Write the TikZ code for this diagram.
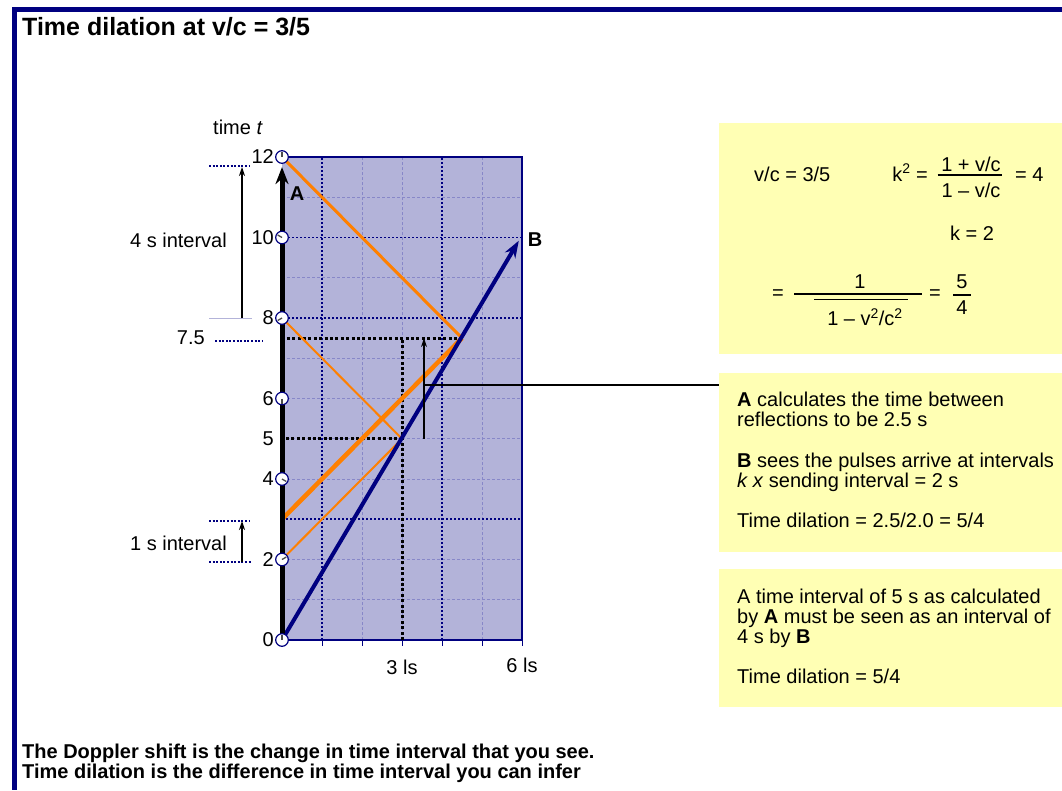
\documentclass[tikz,border=0pt]{standalone}
\usepackage{fontspec}
\setmainfont{Liberation Sans}
\usetikzlibrary{arrows.meta}
\definecolor{navyb}{RGB}{0,0,128}
\definecolor{lav}{RGB}{179,179,217}
\definecolor{lavline}{RGB}{135,135,200}
\definecolor{orng}{RGB}{255,128,0}
\definecolor{ylw}{RGB}{255,255,180}
\begin{document}
\begin{tikzpicture}[x=1pt,y=-1pt,font=\fontsize{20}{20}\selectfont,
  txt/.style={inner sep=0pt,anchor=base west},
  tick/.style={inner sep=0pt,anchor=east},
  ybox/.style={fill=ylw,draw=none,minimum width=343pt,inner sep=0pt},
  navydot/.style={navyb,line width=1.6pt,dash pattern=on 2pt off 1.6pt},
  griddot/.style={navyb,line width=1.6pt,dash pattern=on 2pt off 2pt},
  gridlight/.style={lavline,line width=0.7pt,dash pattern=on 3pt off 2pt},
  blackdot/.style={black,line width=3pt,dash pattern=on 3pt off 2.4pt},
  thinarrow/.style={black,line width=1.2pt,-{Stealth[length=9pt,width=6pt]}},
  clock/.style={navyb,fill=white,line width=1.2pt},
  hand/.style={line width=1.3pt,black!70}]
\useasboundingbox (0,0) rectangle (1062,790);
\fill[white] (0,0) rectangle (1062,790);
% frame
\fill[navyb] (12,7) rectangle (1062,12);
\fill[navyb] (12,7) rectangle (17,790);
% title
\node[txt,font=\fontsize{25}{25}\selectfont\bfseries] (title) at (22,35.5) {Time dilation at v/c = 3/5};
% plot
\begin{scope}[shift={(282,640)},x={(40pt,0pt)},y={(0pt,40.25pt)}]
  \fill[lav] (0,0) rectangle (6,12);
  \foreach \i in {2,3,5} \draw[gridlight] (\i,0) -- (\i,12);
  \foreach \t in {1,2,4,5,6,7,9,11} \draw[gridlight] (0,\t) -- (6,\t);
  \draw[griddot] (1,0) -- (1,12);
  \draw[griddot] (4,0) -- (4,12);
  \draw[griddot] (0.15,10) -- (6,10);
  \draw[griddot] (0.15,8) -- (6,8);
  \draw[griddot] (0,3) -- (6,3);
  \draw[navyb,line width=2pt] (0.15,12) -- (6,12) -- (6,0) -- (0,0);
  \foreach \i in {1,...,6} \draw[navyb,line width=1pt] (\i,0) -- (\i,-0.16);
  % key points
  \coordinate (O) at (0,0);
  \coordinate (E2) at (0,2);
  \coordinate (E3) at (0,3);
  \coordinate (E8) at (0,8);
  \coordinate (E12) at (0,12);
  \coordinate (R5) at (3,5);
  \coordinate (R75) at (4.5,7.5);
  \coordinate (X3) at (3,0);
  \coordinate (X3t) at (3,7.5);
  \coordinate (L5) at (0.1,5);
  \coordinate (L75) at (0.12,7.5);
  \coordinate (Btip) at (5.92,9.92);
  \coordinate (Abot) at (0,0);
  \coordinate (Atop) at (0,11.75);
  \coordinate (M5) at (3.55,5);
  \coordinate (M75) at (3.55,7.5);
  \coordinate (Mc) at (3.55,6.335);
  % dotted construction
  \draw[blackdot] (L5) -- (R5);
  \draw[blackdot] (X3) -- (X3t);
  \draw[blackdot] (L75) -- (R75);
  % light rays
  \draw[orng,line width=2pt] (E2) -- (R5) -- (E8);
  \draw[orng,line width=4.5pt] (E3) -- (R75);
  \draw[orng,line width=3pt] (R75) -- (E12);
  % world line B
  \draw[navyb,line width=4pt,-{Stealth[length=17pt,width=12pt]}] (O) -- (Btip);
  % arrow
  \draw[thinarrow] (M5) -- (M75);
  % axis A
  \draw[black,line width=5pt,-{Stealth[length=17pt,width=13pt]}] (Abot) -- (Atop);
  % clocks
  \foreach \t in {0,2,4,6,8,10,12}{
    \draw[clock] (0,\t) circle[radius=6.3pt];
    \draw[hand] (0,\t) -- ++({90-30*\t}:5pt);
  }
  % tick labels
  \foreach \t in {0,2,4,5,6,8,10,12} \node[tick] (tl\t) at (-0.2,\t) {\t};
  \node[tick] (tl75) at (-1.925,7.5) {7.5};
  \node[inner sep=0pt] (x3) at (3,-0.68) {3 ls};
  \node[inner sep=0pt] (x6) at (6,-0.63) {6 ls};
  \node[inner sep=0pt,font=\fontsize{20}{20}\selectfont\bfseries] (Alab) at (0.38,11.08) {A};
  \node[inner sep=0pt,font=\fontsize{20}{20}\selectfont\bfseries] (Blab) at (6.33,9.95) {B};
\end{scope}
\node[inner sep=0pt] (timet) at (238,127) {time \textit{t}};
% left annotations
\coordinate (i4a) at (209,166); \coordinate (i4b) at (250,166);
\coordinate (i4c) at (209,318); \coordinate (i4d) at (252,318);
\draw[navydot] (i4a) -- (i4b);
\draw[lav,line width=1pt] (i4c) -- (i4d);
\coordinate (a4b) at (242,318); \coordinate (a4t) at (242,167);
\draw[thinarrow] (a4b) -- (a4t);
\node[tick] (int4) at (227,240) {4 s interval};
\coordinate (s75a) at (215,341); \coordinate (s75b) at (262,341);
\draw[navydot] (s75a) -- (s75b);
\coordinate (i1a) at (209,521); \coordinate (i1b) at (250,521);
\coordinate (i1c) at (209,562); \coordinate (i1d) at (252,562);
\draw[navydot] (i1a) -- (i1b);
\draw[navydot] (i1c) -- (i1d);
\coordinate (a1b) at (242,562); \coordinate (a1t) at (242,521);
\draw[thinarrow] (a1b) -- (a1t);
\node[tick] (int1) at (227,543) {1 s interval};
% yellow boxes
\node[ybox,minimum height=231pt] (box1) at (890.5,238.5) {};
\node[ybox,minimum height=179pt] (box2) at (890.5,462.5) {};
\node[ybox,minimum height=138pt] (box3) at (890.5,638) {};
% connector
\draw[black,line width=1.2pt] (Mc) -- (Mc -| box2.west);
% box 1 formulas
\node[txt] (vc) at (754,181) {v/c = 3/5};
\node[inner sep=0pt,anchor=base east] (ksq) at (928,181) {k\textsuperscript{2} =};
\node[inner sep=0pt] (fnum) at (971,164) {1 + v/c};
\draw[black,line width=1.8pt] (937.5,175) -- (1002,175);
\node[inner sep=0pt] (fden) at (971,190) {1 -- v/c};
\node[txt] (eq4) at (1015,181) {= 4};
\node[inner sep=0pt] (k2) at (972,233) {k = 2};
\node[inner sep=0pt] (eqa) at (778,295) {=};
\node[inner sep=0pt] (gnum) at (860,282) {1};
\draw[black,line width=1.8pt] (794,294) -- (922,294);
\draw[black,line width=1.8pt] (814,299.5) -- (908,299.5);
\node[inner sep=0pt] (gden) at (865,317) {1 -- v\textsuperscript{2}/c\textsuperscript{2}};
\node[inner sep=0pt] (eqb) at (935,295) {=};
\node[inner sep=0pt] (n5) at (962,282) {5};
\draw[black,line width=1.8pt] (953,295) -- (971,295);
\node[inner sep=0pt] (n4) at (962,308) {4};
% box 2 text
\node[txt] (b2l1) at (737,406) {\textbf{A} calculates the time between};
\node[txt] (b2l2) at (737,426) {reflections to be 2.5 s};
\node[txt] (b2l3) at (737,467) {\textbf{B} sees the pulses arrive at intervals};
\node[txt] (b2l4) at (737,487) {\textit{k x} sending interval = 2 s};
\node[txt] (b2l5) at (737,527) {Time dilation = 2.5/2.0 = 5/4};
% box 3 text
\node[txt] (b3l1) at (737,603) {A time interval of 5 s as calculated};
\node[txt] (b3l2) at (737,623) {by \textbf{A} must be seen as an interval of};
\node[txt] (b3l3) at (737,643) {4 s by \textbf{B}};
\node[txt] (b3l4) at (737,683) {Time dilation = 5/4};
% bottom text
\node[txt,font=\fontsize{20}{20}\selectfont\bfseries] (bot1) at (22,758) {The Doppler shift is the change in time interval that you see.};
\node[txt,font=\fontsize{20}{20}\selectfont\bfseries] (bot2) at (22,778) {Time dilation is the difference in time interval you can infer};
\end{tikzpicture}
\end{document}
